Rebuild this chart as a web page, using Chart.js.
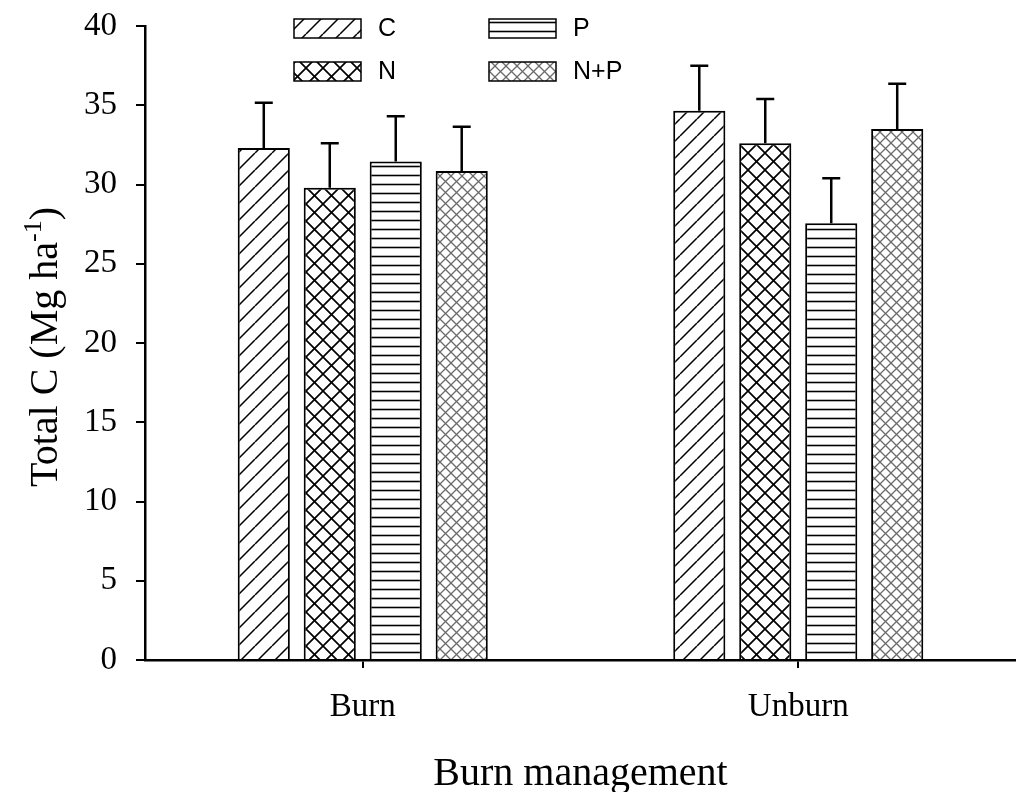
<!DOCTYPE html>
<html>
<head>
<meta charset="utf-8">
<title>Total C by burn management</title>
<script src="https://cdn.jsdelivr.net/npm/chart.js@4"></script>
<style>
  html, body { margin: 0; padding: 0; background: #fff; }
  #wrap { width: 1016px; height: 792px; }
</style>
</head>
<body>
<div id="wrap"><canvas id="chart" width="1016" height="792"></canvas></div>
<script>
// Categories and treatments
var categories = ['Burn', 'Unburn'];
var treatments = ['C', 'N', 'P', 'N+P'];

// Mean total C (Mg ha-1) per treatment, one value per category
var meanC = [32.3, 34.65];
var meanN = [29.8, 32.6];
var meanP = [31.45, 27.55];
var meanNP = [30.85, 33.5];

// Standard errors (upper bar only)
var errC = [2.85, 2.85];
var errN = [2.8, 2.8];
var errP = [2.85, 2.85];
var errNP = [2.8, 2.85];

var yTicks = [0, 5, 10, 15, 20, 25, 30, 35, 40];

var serif = '"Liberation Serif", "Times New Roman", serif';
var sans = '"Liberation Sans", Arial, sans-serif';

// Build a repeating fill pattern from a small tile
function makePattern(w, h, draw) {
    var c = document.createElement('canvas');
    c.width = w;
    c.height = h;
    var g = c.getContext('2d');
    g.fillStyle = '#fff';
    g.fillRect(0, 0, w, h);
    draw(g, w, h);
    return document.getElementById('chart').getContext('2d').createPattern(c, 'repeat');
}

function diag(g, s, up) {
    g.beginPath();
    for (var k = -1; k <= 1; k++) {
        if (up) {
            g.moveTo(k * s, s);
            g.lineTo(k * s + s, 0);
        } else {
            g.moveTo(k * s, 0);
            g.lineTo(k * s + s, s);
        }
    }
    g.stroke();
}

var patC = makePattern(17, 17, function (g, w) {
    g.strokeStyle = '#000';
    g.lineWidth = 1.5;
    diag(g, w, true);
});

var patN = makePattern(17, 17, function (g, w) {
    g.strokeStyle = '#000';
    g.lineWidth = 1.7;
    diag(g, w, true);
    diag(g, w, false);
});

var patP = makePattern(10, 9, function (g, w) {
    g.strokeStyle = '#000';
    g.lineWidth = 1.6;
    g.beginPath();
    g.moveTo(0, 4.5);
    g.lineTo(w, 4.5);
    g.stroke();
});

var patNP = makePattern(11, 11, function (g, w) {
    g.strokeStyle = '#6a6a6a';
    g.lineWidth = 1.3;
    diag(g, w, true);
    diag(g, w, false);
});

var fills = [patC, patN, patP, patNP];
var means = [meanC, meanN, meanP, meanNP];
var errs = [errC, errN, errP, errNP];

var datasets = treatments.map(function (t, i) {
    return {
        label: t,
        data: means[i],
        errors: errs[i],
        backgroundColor: fills[i],
        borderColor: '#000',
        borderWidth: 2,
        borderSkipped: 'bottom',
        categoryPercentage: 0.606,
        barPercentage: 0.79
    };
});

// Upper error bars
var errorBars = {
    id: 'errorBars',
    afterDatasetsDraw: function (chart) {
        var ctx = chart.ctx;
        var y = chart.scales.y;
        ctx.save();
        ctx.strokeStyle = '#000';
        ctx.lineWidth = 2.5;
        chart.data.datasets.forEach(function (ds, i) {
            var meta = chart.getDatasetMeta(i);
            meta.data.forEach(function (bar, j) {
                var top = y.getPixelForValue(ds.data[j] + ds.errors[j]);
                ctx.beginPath();
                ctx.moveTo(bar.x, bar.y);
                ctx.lineTo(bar.x, top);
                ctx.moveTo(bar.x - 9, top);
                ctx.lineTo(bar.x + 9, top);
                ctx.stroke();
            });
        });
        ctx.restore();
    }
};

// Two-column legend and axis titles
var decorations = {
    id: 'decorations',
    afterDraw: function (chart) {
        var ctx = chart.ctx;
        var area = chart.chartArea;
        var boxes = [
            [294, 19], [294, 62], [489, 19], [489, 62]
        ];
        ctx.save();
        ctx.font = '25px ' + sans;
        ctx.textBaseline = 'middle';
        ctx.textAlign = 'left';
        boxes.forEach(function (b, i) {
            ctx.fillStyle = fills[i];
            ctx.fillRect(b[0], b[1], 67, 19);
            ctx.strokeStyle = '#000';
            ctx.lineWidth = 1.5;
            ctx.strokeRect(b[0], b[1], 67, 19);
            ctx.fillStyle = '#000';
            ctx.fillText(treatments[i], b[0] + 84, b[1] + 10);
        });

        // x title
        ctx.font = '40px ' + serif;
        ctx.textAlign = 'center';
        ctx.textBaseline = 'alphabetic';
        ctx.fillText('Burn management', (area.left + area.right) / 2, 785);

        // y title with superscript
        ctx.translate(57, 347);
        ctx.rotate(-Math.PI / 2);
        var main = 'Total C (Mg ha';
        var sup = '-1';
        var tail = ')';
        ctx.font = '40px ' + serif;
        var wMain = ctx.measureText(main).width;
        var wTail = ctx.measureText(tail).width;
        ctx.font = '26px ' + serif;
        var wSup = ctx.measureText(sup).width;
        var x0 = -(wMain + wSup + wTail) / 2;
        ctx.textAlign = 'left';
        ctx.font = '40px ' + serif;
        ctx.fillText(main, x0, 0);
        ctx.font = '26px ' + serif;
        ctx.fillText(sup, x0 + wMain, -16);
        ctx.font = '40px ' + serif;
        ctx.fillText(tail, x0 + wMain + wSup, 0);
        ctx.restore();
    }
};

new Chart(document.getElementById('chart'), {
    type: 'bar',
    data: {
        labels: categories,
        datasets: datasets
    },
    options: {
        responsive: false,
        animation: false,
        devicePixelRatio: 1,
        layout: { padding: { top: 26, right: 0, left: 0, bottom: 0 } },
        plugins: {
            legend: { display: false },
            tooltip: { enabled: false }
        },
        scales: {
            x: {
                afterFit: function (scale) {
                    scale.height = 132;
                    scale.paddingRight = 0;
                },
                grid: {
                    offset: false,
                    drawOnChartArea: false,
                    drawTicks: true,
                    tickLength: 8,
                    color: '#000',
                    lineWidth: 2
                },
                border: { display: true, color: '#000', width: 2.5 },
                ticks: {
                    color: '#000',
                    padding: 20,
                    font: { family: serif, size: 33 }
                }
            },
            y: {
                min: 0,
                max: 40,
                afterFit: function (scale) {
                    scale.width = 145;
                    scale.paddingTop = 0;
                    scale.paddingBottom = 0;
                },
                afterBuildTicks: function (scale) {
                    scale.ticks = yTicks.map(function (v) { return { value: v }; });
                },
                grid: {
                    drawOnChartArea: false,
                    drawTicks: true,
                    tickLength: 9,
                    color: '#000',
                    lineWidth: 2
                },
                border: { display: true, color: '#000', width: 2.5 },
                ticks: {
                    color: '#000',
                    padding: 19,
                    font: { family: serif, size: 33 }
                }
            }
        }
    },
    plugins: [errorBars, decorations]
});
</script>
</body>
</html>
